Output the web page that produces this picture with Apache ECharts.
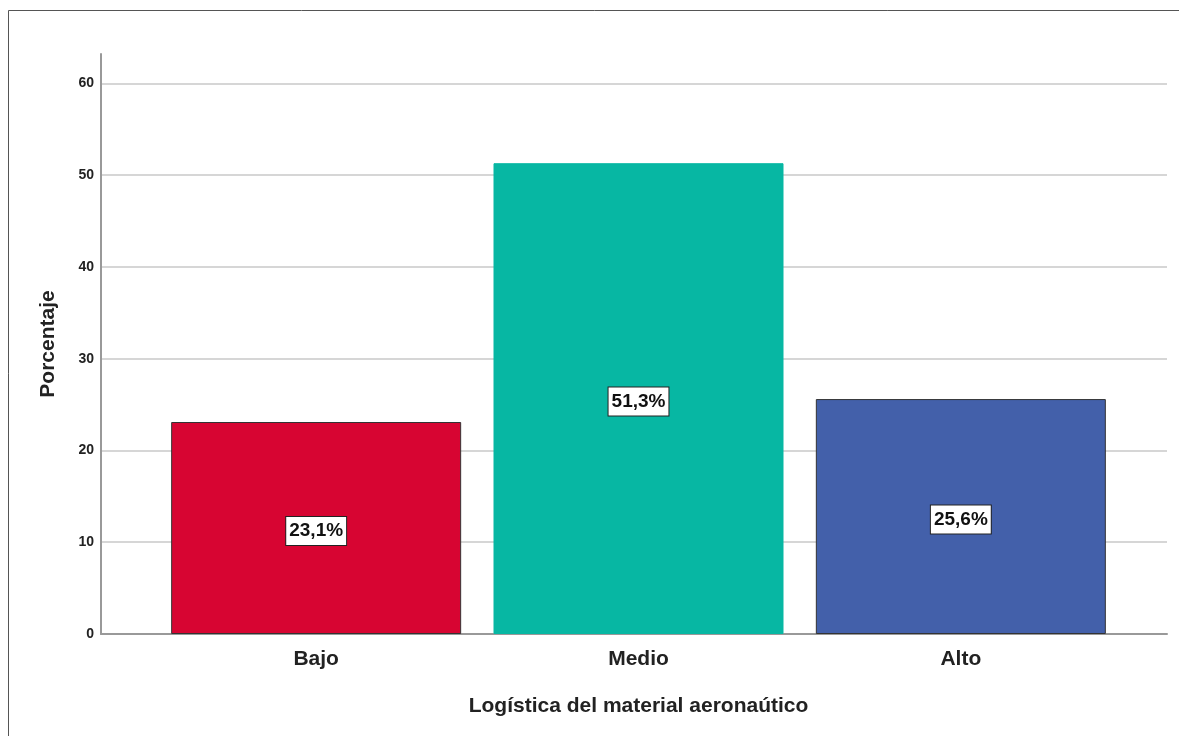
<!DOCTYPE html>
<html>
<head>
<meta charset="utf-8">
<script src="https://cdn.jsdelivr.net/npm/echarts@6/dist/echarts.min.js"></script>
<style>
  html, body { margin: 0; padding: 0; background: #fff; }
  #main { width: 1179px; height: 736px; }
</style>
</head>
<body>
<div id="main"></div>
<script>
// datos del gráfico
var categorias = ["Bajo", "Medio", "Alto"];
var porcentajes = [23.1, 51.3, 25.6];
var colores = ["#d70532", "#07b7a3", "#4360aa"];
var bordes = ["#333333", "#07b7a3", "#333333"];

var fuente = "'Liberation Sans', Arial, sans-serif";

var myChart = echarts.init(document.getElementById("main"));

var option = {
  backgroundColor: "#ffffff",
  animation: false,
  graphic: [
    {
      type: "rect",
      shape: { x: 8.5, y: 10.5, width: 1200, height: 800 },
      style: { fill: "none", stroke: "#555555", lineWidth: 1 },
      silent: true
    }
  ],
  grid: [
    // grid para eje Y y líneas de fondo
    { left: 101, right: 12, top: 54, bottom: 102 },
    // grid para las barras
    { left: 155, right: 57, top: 54, bottom: 102 }
  ],
  xAxis: [
    {
      gridIndex: 0,
      type: "value",
      min: 0,
      max: 1,
      axisLine: { show: true, onZero: false, lineStyle: { color: "#999999", width: 2 } },
      axisTick: { show: false },
      axisLabel: { show: false },
      splitLine: { show: false }
    },
    {
      gridIndex: 1,
      type: "category",
      data: categorias,
      name: "Logística del material aeronaútico",
      nameLocation: "middle",
      nameGap: 62,
      nameTextStyle: { color: "#222", fontSize: 21, fontWeight: "bold", fontFamily: fuente },
      axisLine: { show: false },
      axisTick: { show: false },
      axisLabel: {
        color: "#222",
        fontSize: 21,
        fontFamily: fuente,
        fontWeight: "bold",
        margin: 15
      }
    }
  ],
  yAxis: [
    {
      gridIndex: 0,
      type: "value",
      min: 0,
      max: 63.2,
      interval: 10,
      name: "Porcentaje",
      nameLocation: "middle",
      nameGap: 42,
      nameTextStyle: { color: "#222", fontSize: 21, fontFamily: fuente, fontWeight: "bold" },
      axisLine: { show: true, lineStyle: { color: "#999999", width: 2 } },
      axisTick: { show: false },
      axisLabel: {
        color: "#222",
        fontSize: 14,
        fontWeight: "bold",
        fontFamily: fuente,
        margin: 7,
        showMaxLabel: false
      },
      splitLine: {
        show: true,
        showMinLine: false,
        showMaxLine: false,
        lineStyle: { color: "#d6d6d6", width: 2 }
      }
    },
    {
      gridIndex: 1,
      type: "value",
      min: 0,
      max: 63.2,
      interval: 10,
      show: false,
      splitLine: { show: false }
    }
  ],
  series: [
    {
      type: "bar",
      xAxisIndex: 1,
      yAxisIndex: 1,
      barWidth: 290,
      data: porcentajes.map(function (v, i) {
        return {
          value: v,
          itemStyle: { color: colores[i], borderColor: bordes[i], borderWidth: 1 }
        };
      }),
      label: {
        show: true,
        position: "inside",
        offset: [0, 3],
        formatter: function (p) {
          return p.value.toFixed(1).replace(".", ",") + "%";
        },
        color: "#111",
        fontSize: 19,
        fontWeight: "bold",
        fontFamily: fuente,
        backgroundColor: "#ffffff",
        borderColor: "#222",
        borderWidth: 1,
        padding: [5, 3, 4, 3]
      }
    }
  ]
};

myChart.setOption(option);
</script>
</body>
</html>
